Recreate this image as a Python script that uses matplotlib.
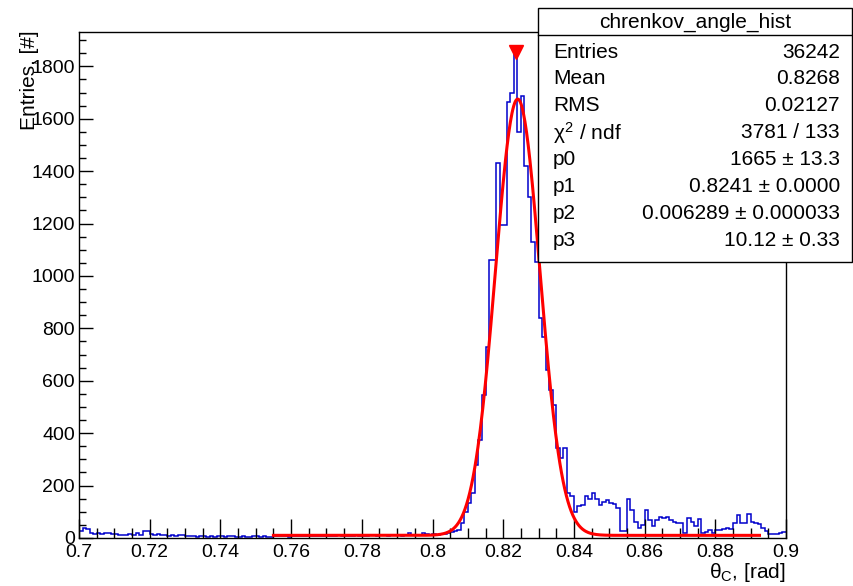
import numpy as np
import matplotlib
matplotlib.use("Agg")
import matplotlib.pyplot as plt
from matplotlib.ticker import MultipleLocator, FixedLocator
from matplotlib.patches import Rectangle
from matplotlib.lines import Line2D

plt.rcParams['font.family'] = ['Liberation Sans', 'DejaVu Sans']
plt.rcParams['mathtext.fontset'] = 'custom'
plt.rcParams['mathtext.rm'] = 'Liberation Sans'
plt.rcParams['mathtext.it'] = 'Liberation Sans'
plt.rcParams['mathtext.bf'] = 'Liberation Sans:bold'

# ---------------- data ----------------
x_min, x_max, n_bins = 0.7, 0.9, 200

counts_low = [25, 38, 33, 20, 15, 20, 14, 18, 18, 15,
              16, 12, 10, 12, 14, 12, 20, 12, 26, 25,
              14, 13, 14, 12, 12, 8, 10, 6, 10, 12,
              8, 8, 6, 5, 7, 6, 4, 6, 4, 8,
              6, 5, 6, 8, 5, 4, 6, 5, 4, 6,
              8, 5, 6, 4, 5, 7, 6, 8, 6, 5,
              7, 6, 8, 7, 9, 8, 6, 7, 9, 8,
              6, 7, 8, 10, 7, 8, 9, 8, 10, 9,
              8, 9, 10, 12, 9, 10, 11, 8, 10, 12,
              10, 9, 10, 20, 12, 10, 12, 20, 14, 12]
counts_high = [14, 13, 16, 14, 18, 22, 25, 32, 56, 100,
               135, 172, 280, 374, 545, 730, 1060, 1060, 1431, 1195,
               1195, 1665, 1700, 1855, 1550, 1685, 1420, 1300, 1130, 1054,
               838, 768, 640, 564, 507, 342, 304, 342, 170, 160,
               100, 122, 126, 160, 148, 173, 150, 125, 139, 145,
               135, 130, 113, 25, 25, 148, 107, 62, 40, 50,
               108, 70, 45, 70, 81, 78, 80, 68, 62, 56,
               56, 20, 75, 60, 45, 72, 20, 22, 30, 20,
               32, 30, 36, 40, 36, 56, 88, 56, 56, 92,
               60, 58, 53, 40, 26, 15, 15, 15, 20, 23]
counts = np.array(counts_low + counts_high, dtype=float)

fit_p0, fit_p1, fit_p2, fit_p3 = 1665.0, 0.8241, 0.006289, 10.12
fit_lo, fit_hi = 0.755, 0.8925

stats_title = "chrenkov_angle_hist"
stats_labels = ["Entries", "Mean", "RMS", r"$\chi^{2}$ / ndf", "p0", "p1", "p2", "p3"]
stats_values = ["36242", "0.8268", "0.02127", "3781 / 133",
                "1665 \u00b1 13.3", "0.8241 \u00b1 0.0000",
                "0.006289 \u00b1 0.000033", "10.12 \u00b1 0.33"]

x_ticks = [0.7, 0.72, 0.74, 0.76, 0.78, 0.8, 0.82, 0.84, 0.86, 0.88, 0.9]
x_tick_labels = ["0.7", "0.72", "0.74", "0.76", "0.78", "0.8", "0.82", "0.84", "0.86", "0.88", "0.9"]
y_ticks = [0, 200, 400, 600, 800, 1000, 1200, 1400, 1600, 1800]

# ---------------- figure ----------------
W, H = 854, 586
fig = plt.figure(figsize=(W / 100, H / 100), dpi=100)
ax = fig.add_axes([79 / W, 1 - 538 / H, (786 - 79) / W, (538 - 32) / H])

edges = np.linspace(x_min, x_max, n_bins + 1)
ax.stairs(counts, edges, color='#0000cc', lw=1.1, baseline=None)

xf = np.linspace(fit_lo, fit_hi, 600)
yf = fit_p0 * np.exp(-0.5 * ((xf - fit_p1) / fit_p2) ** 2) + fit_p3
ax.plot(xf, yf, color='#ff0000', lw=2.2)

imax = int(np.argmax(counts))
ax.plot([0.5 * (edges[imax] + edges[imax + 1])], [counts[imax]], marker='v',
        color='#ff0000', ms=10, ls='none')

ax.set_xlim(x_min, x_max)
ax.set_ylim(0, 1931)
ax.xaxis.set_major_locator(FixedLocator(x_ticks))
ax.set_xticklabels(x_tick_labels)
ax.xaxis.set_minor_locator(MultipleLocator(0.005))
ax.yaxis.set_major_locator(FixedLocator(y_ticks))
ax.yaxis.set_minor_locator(MultipleLocator(50))
ax.tick_params(axis='both', which='both', direction='in', top=False, right=False,
               labelsize=14, color='black')
ax.tick_params(axis='x', which='major', length=14, width=1, pad=4)
ax.tick_params(axis='x', which='minor', length=7, width=1)
ax.tick_params(axis='y', which='major', length=10, width=1, pad=3)
ax.tick_params(axis='y', which='minor', length=5, width=1)
for s in ax.spines.values():
    s.set_linewidth(1.0)
    s.set_color('black')

fig.text(30 / W, 1 - 30 / H, "Entries, [#]", rotation=90, ha='center', va='top', fontsize=15)
fig.text(786 / W, 1 - 572 / H, "\u03b8$_{\\mathrm{C}}$, [rad]", ha='right', va='center', fontsize=15)

# ---------------- stats box ----------------
bx0, bx1, by0, by1 = 538, 852, 8, 262
fig.patches.append(Rectangle((bx0 / W, 1 - by1 / H), (bx1 - bx0) / W, (by1 - by0) / H,
                             transform=fig.transFigure, facecolor='white', edgecolor='black',
                             lw=1.0, zorder=5))
fig.lines.append(Line2D([bx0 / W, bx1 / W], [1 - 35 / H, 1 - 35 / H],
                        transform=fig.transFigure, color='black', lw=1.0, zorder=6))
fig.text((bx0 + bx1) / 2 / W, 1 - 22 / H, stats_title, ha='center', va='center',
         fontsize=15, zorder=7)
row0, drow = 52, 26.9
for i, (lab, val) in enumerate(zip(stats_labels, stats_values)):
    yy = 1 - (row0 + i * drow) / H
    fig.text(553 / W, yy, lab, ha='left', va='center', fontsize=15, zorder=7)
    fig.text(840 / W, yy, val, ha='right', va='center', fontsize=15, zorder=7)

fig.savefig("out.png", dpi=100)
